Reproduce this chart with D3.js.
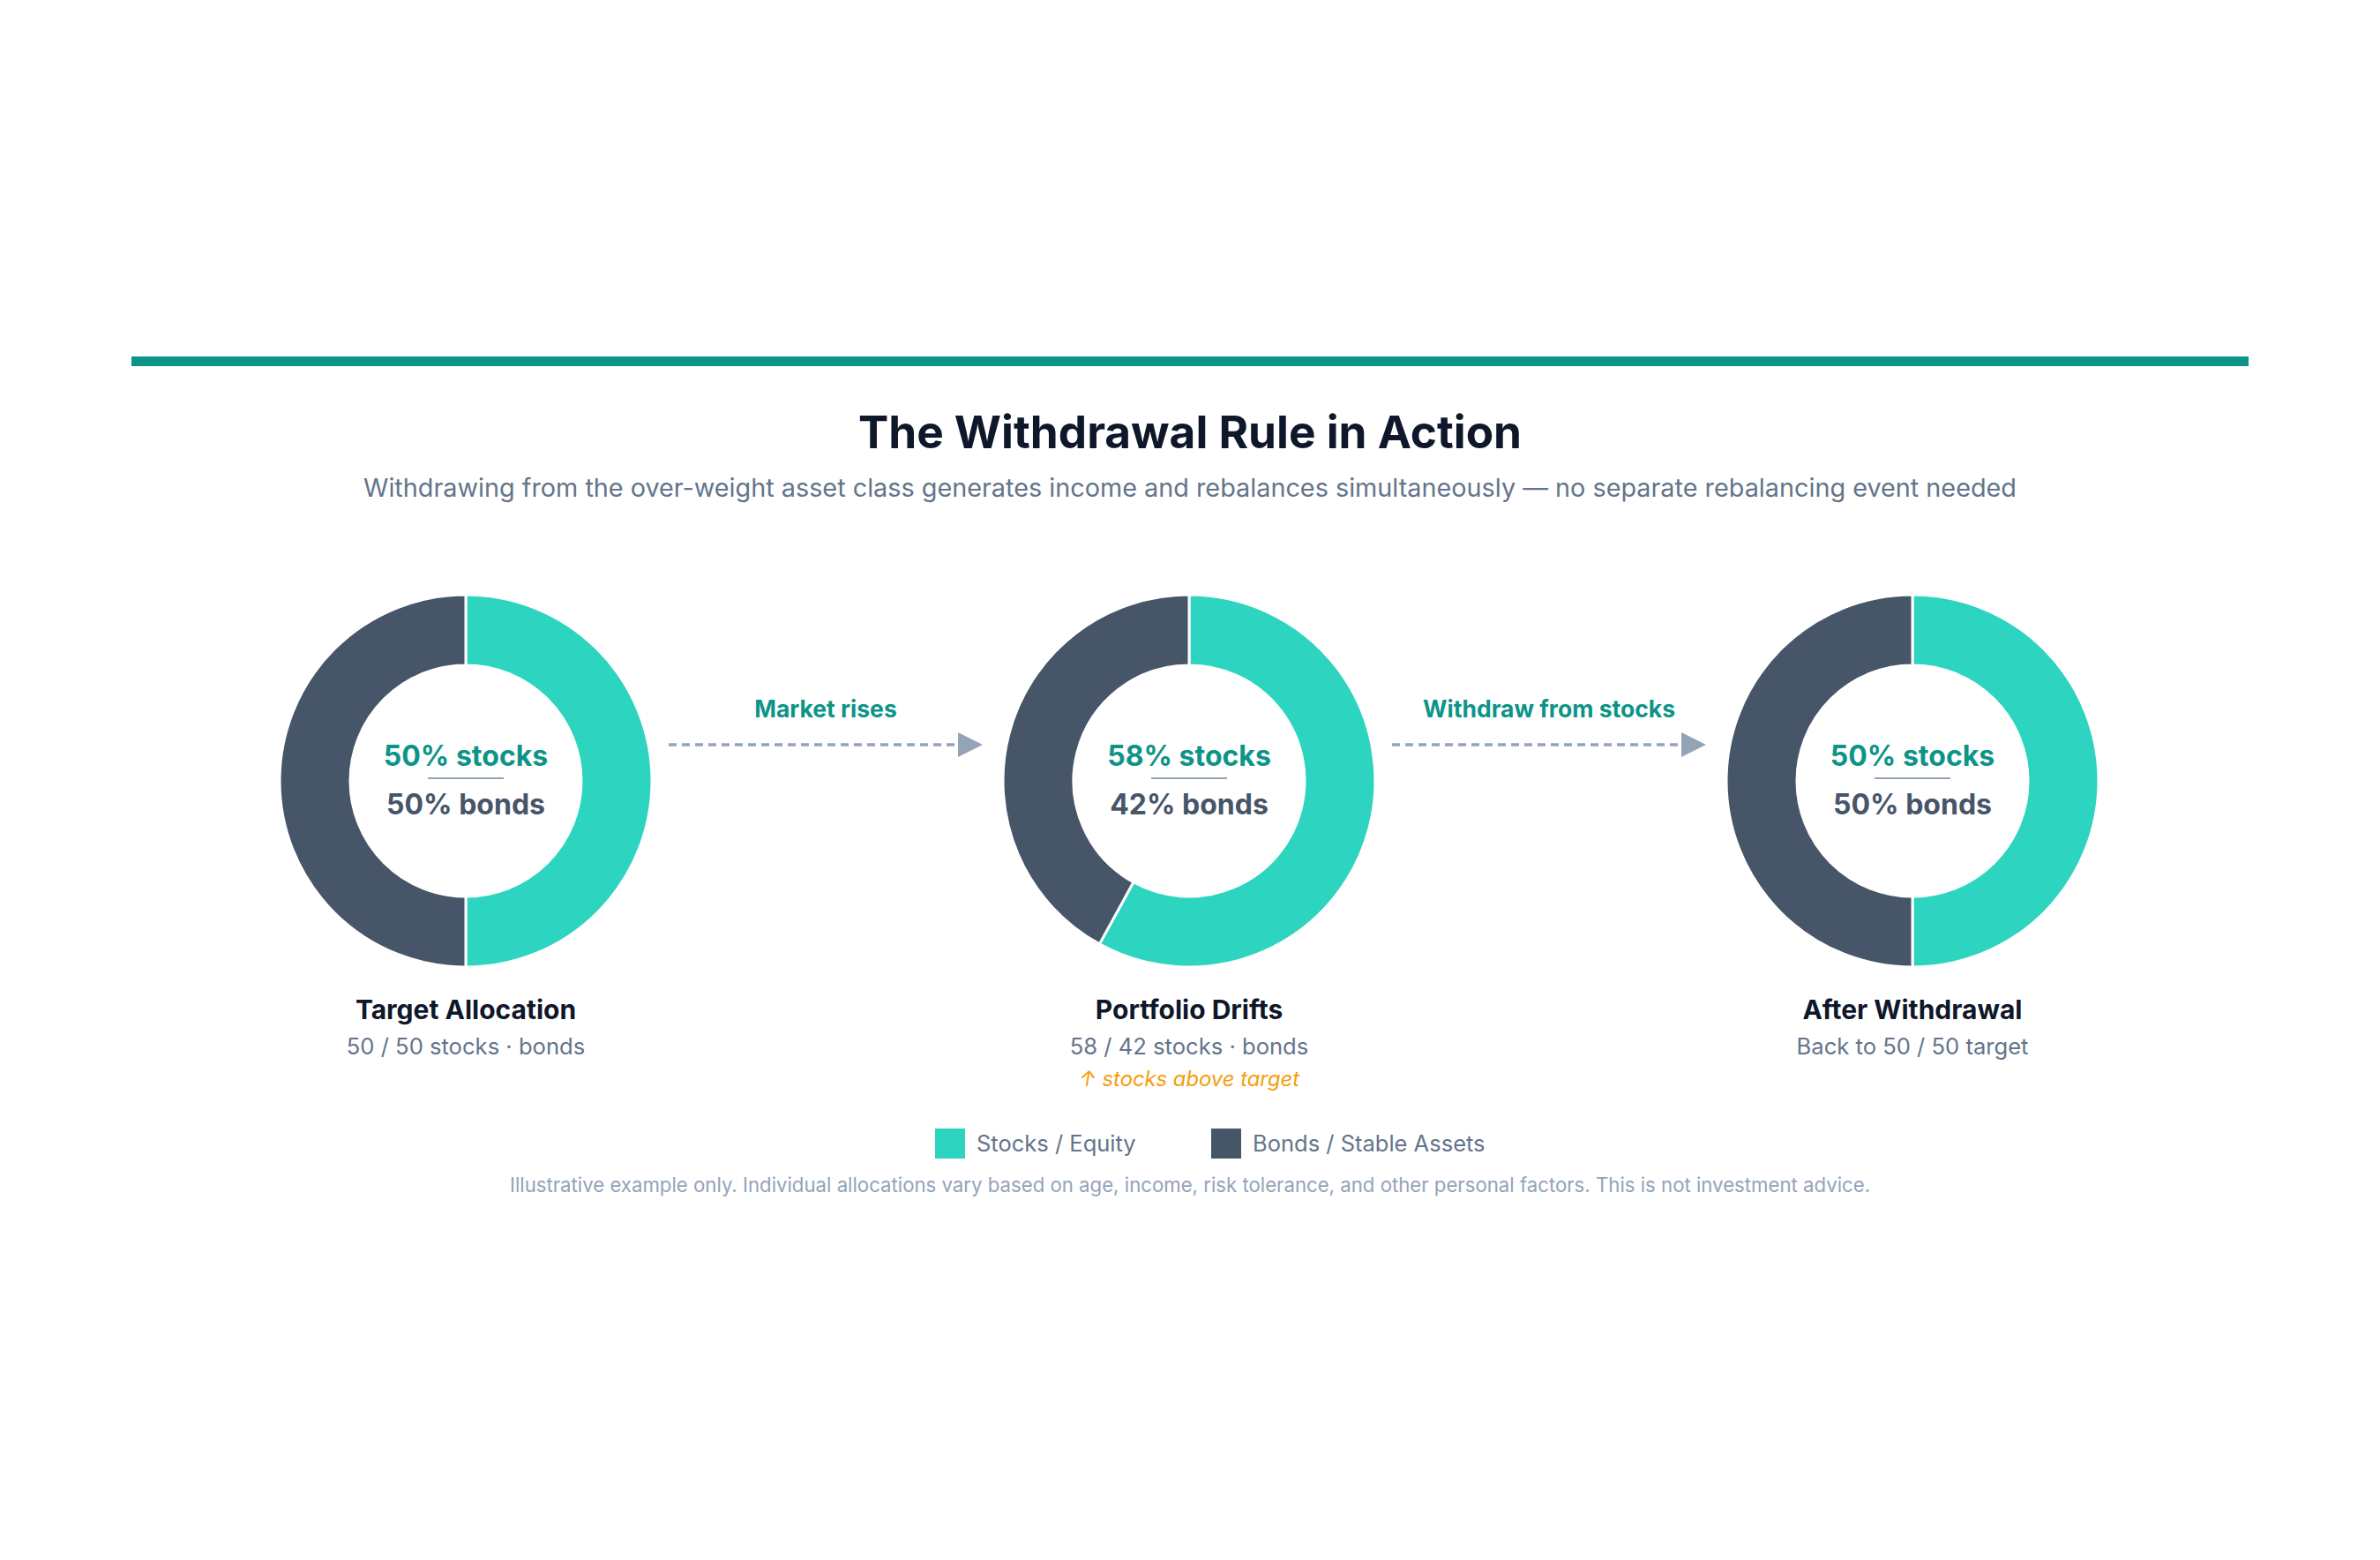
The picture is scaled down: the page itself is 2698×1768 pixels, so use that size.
<!DOCTYPE html>
<html>
<head>
<meta charset="utf-8">
<script src="https://cdn.jsdelivr.net/npm/d3@7"></script>
<style>
  html, body { margin: 0; padding: 0; background: #ffffff; }
  svg { display: block; font-family: Inter, "Noto Sans", sans-serif; }
</style>
</head>
<body>
<svg id="chart" width="2698" height="1768"></svg>
<script>
// ---- data ----
const stages = ["Target Allocation", "Portfolio Drifts", "After Withdrawal"];
const stocksPct = [50, 58, 50];
const bondsPct = [50, 42, 50];
const stageSubtitles = ["50 / 50 stocks · bonds", "58 / 42 stocks · bonds", "Back to 50 / 50 target"];
const stageNotes = ["", "↑ stocks above target", ""];
const transitions = ["Market rises", "Withdraw from stocks"];
const assetClasses = ["Stocks / Equity", "Bonds / Stable Assets"];
const titleText = "The Withdrawal Rule in Action";
const subtitleText = "Withdrawing from the over-weight asset class generates income and rebalances simultaneously — no separate rebalancing event needed";
const footnoteText = "Illustrative example only. Individual allocations vary based on age, income, risk tolerance, and other personal factors. This is not investment advice.";

// ---- styles ----
const STOCK = "#2dd4bf", BOND = "#475569", TEAL_DARK = "#0d9488";
const CX = 1349;

const svg = d3.select("#chart");

// top accent bar
svg.append("rect").attr("x", 149).attr("y", 404).attr("width", 2400).attr("height", 11).attr("fill", TEAL_DARK);

svg.append("text").attr("x", CX).attr("y", 508).attr("text-anchor", "middle")
  .attr("font-size", 51.3).attr("font-weight", 700).attr("fill", "#0f172a")
  .text(titleText);
svg.append("text").attr("x", CX).attr("y", 563).attr("text-anchor", "middle")
  .attr("font-size", 28.8).attr("font-weight", 400).attr("fill", "#64748b")
  .text(subtitleText);

const x = d3.scalePoint().domain(stages).range([528, 2168]);
const cy = 885;
const rOuter = 211, rInner = 131;
const color = d3.scaleOrdinal().domain(assetClasses).range([STOCK, BOND]);

const pie = d3.pie().sort(null).value(d => d.v);
const arc = d3.arc().innerRadius(rInner).outerRadius(rOuter);

stages.forEach((s, i) => {
  const g = svg.append("g").attr("transform", `translate(${x(s)},${cy})`);
  const data = [{k: assetClasses[0], v: stocksPct[i]}, {k: assetClasses[1], v: bondsPct[i]}];
  g.selectAll("path").data(pie(data)).join("path")
    .attr("d", arc).attr("fill", d => color(d.data.k))
    .attr("stroke", "#ffffff").attr("stroke-width", 3);
  g.append("text").attr("y", -17).attr("text-anchor", "middle")
    .attr("font-size", 32).attr("font-weight", 700).attr("fill", TEAL_DARK)
    .text(`${stocksPct[i]}% stocks`);
  g.append("line").attr("x1", -43).attr("x2", 43).attr("y1", -3).attr("y2", -3)
    .attr("stroke", "#94a3b8").attr("stroke-width", 2);
  g.append("text").attr("y", 38).attr("text-anchor", "middle")
    .attr("font-size", 32).attr("font-weight", 700).attr("fill", BOND)
    .text(`${bondsPct[i]}% bonds`);

  const lg = svg.append("g").attr("transform", `translate(${x(s)},0)`);
  lg.append("text").attr("y", 1155).attr("text-anchor", "middle")
    .attr("font-size", 30).attr("font-weight", 700).attr("fill", "#0f172a").text(s);
  lg.append("text").attr("y", 1195).attr("text-anchor", "middle")
    .attr("font-size", 25.6).attr("fill", "#64748b").text(stageSubtitles[i]);
  if (stageNotes[i]) {
    lg.append("text").attr("y", 1231).attr("text-anchor", "middle")
      .attr("font-size", 23.8).attr("font-style", "italic").attr("fill", "#f59e0b").text(stageNotes[i]);
  }
});

// arrows between stages
const ay = 844;
transitions.forEach((t, i) => {
  const x0 = x(stages[i]) + rOuter + 19;
  const x1 = x(stages[i + 1]) - rOuter - 23;
  const mid = (x0 + x1) / 2;
  svg.append("line").attr("x1", x0).attr("x2", x1 - 31).attr("y1", ay).attr("y2", ay)
    .attr("stroke", "#94a3b8").attr("stroke-width", 3.5).attr("stroke-dasharray", "9,6");
  svg.append("path")
    .attr("d", `M${x1 - 28},${ay - 14} L${x1},${ay} L${x1 - 28},${ay + 14} Z`)
    .attr("fill", "#94a3b8");
  svg.append("text").attr("x", mid).attr("y", 813).attr("text-anchor", "middle")
    .attr("font-size", 26.5).attr("font-weight", 700).attr("fill", TEAL_DARK).text(t);
});

// legend
const legendX = [1060, 1373];
assetClasses.forEach((a, i) => {
  svg.append("rect").attr("x", legendX[i]).attr("y", 1279).attr("width", 34).attr("height", 34)
    .attr("fill", color(a));
  svg.append("text").attr("x", legendX[i] + 47).attr("y", 1305)
    .attr("font-size", 25.5).attr("fill", "#64748b").text(a);
});

svg.append("text").attr("x", CX).attr("y", 1351).attr("text-anchor", "middle")
  .attr("font-size", 22.2).attr("fill", "#94a3b8").text(footnoteText);
</script>
</body>
</html>
